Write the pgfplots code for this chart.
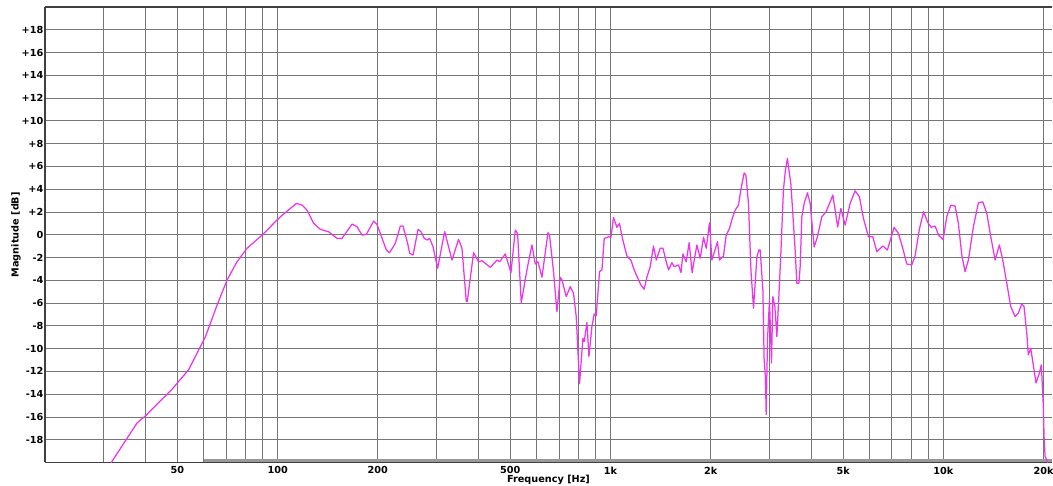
\documentclass[border=0pt]{standalone}
\usepackage{fontspec}
\setmainfont{DejaVu Sans}
\usepackage{pgfplots}
\pgfplotsset{compat=1.18}
\definecolor{curve}{RGB}{238,51,238}
\definecolor{gridc}{RGB}{118,118,118}
\begin{document}
\begin{tikzpicture}
\begin{axis}[
  xmode=log,
  scale only axis, width=1007pt, height=455.5pt,
  xmin=20, xmax=21200, ymin=-20, ymax=20,
  axis x line*=box, axis y line*=left,
  axis line style={black!75, line width=1.2pt},
  xtick={50,100,200,500,1000,2000,5000,10000,20000},
  xticklabels={50,100,200,500,1k,2k,5k,10k,20k},
  minor xtick={30,40,60,70,80,90,300,400,600,700,800,900,3000,4000,6000,7000,8000,9000},
  ytick={-18,-16,-14,-12,-10,-8,-6,-4,-2,0,2,4,6,8,10,12,14,16,18},
  yticklabels={-18,-16,-14,-12,-10,-8,-6,-4,-2,0,+2,+4,+6,+8,+10,+12,+14,+16,+18},
  grid=both,
  major grid style={gridc, line width=0.8pt},
  minor grid style={gridc, line width=0.8pt},
  major tick length=0pt, minor tick length=0pt,
  ticklabel style={font=\bfseries\fontsize{9.7}{11}\selectfont},
  xticklabel style={anchor=north, inner sep=0pt, yshift=-4pt},
  yticklabel style={anchor=east, inner sep=0pt, xshift=-1.5pt},
  xlabel={Frequency [Hz]},
  ylabel={Magnitude [dB]},
  label style={font=\bfseries\fontsize{9.7}{11}\selectfont},
  xlabel style={at={(axis description cs:0.5,-0.0281)}, anchor=north, inner sep=0pt},
  ylabel style={at={(axis description cs:-0.0240,0.5)}, anchor=south, inner sep=0pt},
]
\addplot[draw=black!40, line width=3.2pt, forget plot] coordinates {(60,-19.85) (21200,-19.85)};
\addplot[curve, line width=1.25pt, line join=round, line cap=round] table {
f db
31.2 -20.3
31.8 -19.9
37.8 -16.53
40.1 -15.9
48.2 -13.55
54.0 -11.86
60.7 -8.94
65.8 -6.16
70.5 -3.97
75.5 -2.37
80.9 -1.19
89.8 -0.03
98.4 1.14
101.9 1.58
109.2 2.31
113.8 2.75
118.4 2.6
122.5 2.16
128.3 1.0
134.4 0.47
142.3 0.26
150.8 -0.32
156.1 -0.32
167.3 0.94
173.2 0.70
179.3 -0.03
184.7 0.03
194.2 1.2
198.8 0.91
212.1 -1.34
216.9 -1.58
225.7 -0.75
233.6 0.76
238.0 0.76
245.7 -0.75
249.2 -1.63
255.1 -1.78
264.1 0.47
269.6 0.26
275.8 -0.32
281.0 -0.46
286.2 -0.32
292.9 -1.05
302.4 -2.94
317.5 0.28
334.0 -2.22
349.6 -0.40
357.9 -1.19
368.7 -5.87
371.2 -5.87
387.8 -1.58
401.4 -2.37
411.0 -2.28
435.2 -2.86
456.0 -2.22
464.5 -2.37
482.9 -1.69
502.2 -3.33
517.4 0.41
525.7 0.12
539.2 -5.96
563.3 -2.80
580.7 -0.90
594.1 -2.57
605.3 -2.37
622.3 -3.73
648.6 0.18
655.8 -0.03
674.2 -3.24
690.2 -6.75
706.1 -3.73
714.6 -3.97
736.2 -5.43
756.8 -4.56
774.2 -5.14
788.8 -7.19
807.0 -13.09
826.2 -9.08
833.7 -9.38
849.4 -7.71
861.2 -10.69
879.2 -8.06
893.4 -6.95
905.8 -7.13
926.8 -3.24
942.3 -3.09
957.4 -0.32
986.3 -0.18
1002.8 -0.23
1020.9 1.52
1045.2 0.65
1064 1.0
1086 -0.32
1120 -1.87
1151 -2.22
1178 -3.09
1214 -3.97
1234 -4.41
1262 -4.79
1286 -3.73
1316 -2.80
1346 -0.99
1372 -2.22
1410 -1.19
1437 -1.19
1470 -2.37
1494 -3.09
1529 -2.45
1554 -2.80
1601 -2.65
1628 -3.33
1650 -1.69
1688 -2.37
1723 -0.70
1759 -3.33
1788 -2.07
1818 -0.90
1860 -2.07
1903 -0.23
1939 -1.19
1983 1.05
2016 -2.22
2063 -1.28
2096 -0.61
2125 -2.22
2184 -1.87
2226 -0.03
2278 0.56
2321 1.44
2369 2.16
2424 2.6
2464 3.98
2521 5.43
2551 5.23
2597 2.75
2641 -3.09
2689 -6.45
2753 -1.93
2791 -1.34
2816 -1.34
2869 -4.85
2894 -10.98
2921 -12.59
2935 -15.80
2962 -9.23
3003 -5.72
3045 -11.27
3074 -5.43
3117 -6.31
3160 -8.94
3204 -5.43
3249 -1.63
3307 3.92
3353 5.67
3400 6.70
3447 5.38
3481 4.50
3529 1.88
3586 -1.34
3629 -4.26
3680 -4.26
3713 -2.80
3757 1.58
3817 2.75
3905 3.68
3979 2.75
4090 -1.08
4184 -0.18
4313 1.58
4444 2.02
4569 2.89
4655 3.48
4730 2.16
4812 0.68
4920 2.31
5068 0.85
5246 2.75
5430 3.86
5594 3.33
5752 1.44
5954 -0.18
6138 -0.18
6310 -1.49
6577 -0.99
6790 -1.34
7111 0.65
7327 0.12
7552 -1.19
7764 -2.57
8036 -2.65
8222 -1.85
8472 0.5
8721 2.02
8954 1.14
9185 0.65
9443 0.76
9674 -0.03
9980 -0.43
10237 1.58
10524 2.6
10842 2.52
11092 1.0
11357 -1.78
11619 -3.24
11887 -2.22
12306 0.70
12739 2.80
13134 2.89
13502 1.88
13880 -0.18
14301 -2.22
14732 -0.90
15082 -2.22
15504 -4.26
15938 -6.31
16418 -7.19
16797 -6.89
17195 -6.07
17471 -6.31
17803 -8.64
18001 -10.54
18302 -9.96
18557 -11.13
18985 -13.02
19422 -12.15
19693 -11.42
19967 -15.07
20064 -17.7
20203 -19.46
20527 -19.9
20800 -20.4
};
\end{axis}
\pgfresetboundingbox
\path (current axis.south west) ++(-45pt,-23.5pt) rectangle ([shift={(1pt,7pt)}]current axis.north east);
\end{tikzpicture}
\end{document}
